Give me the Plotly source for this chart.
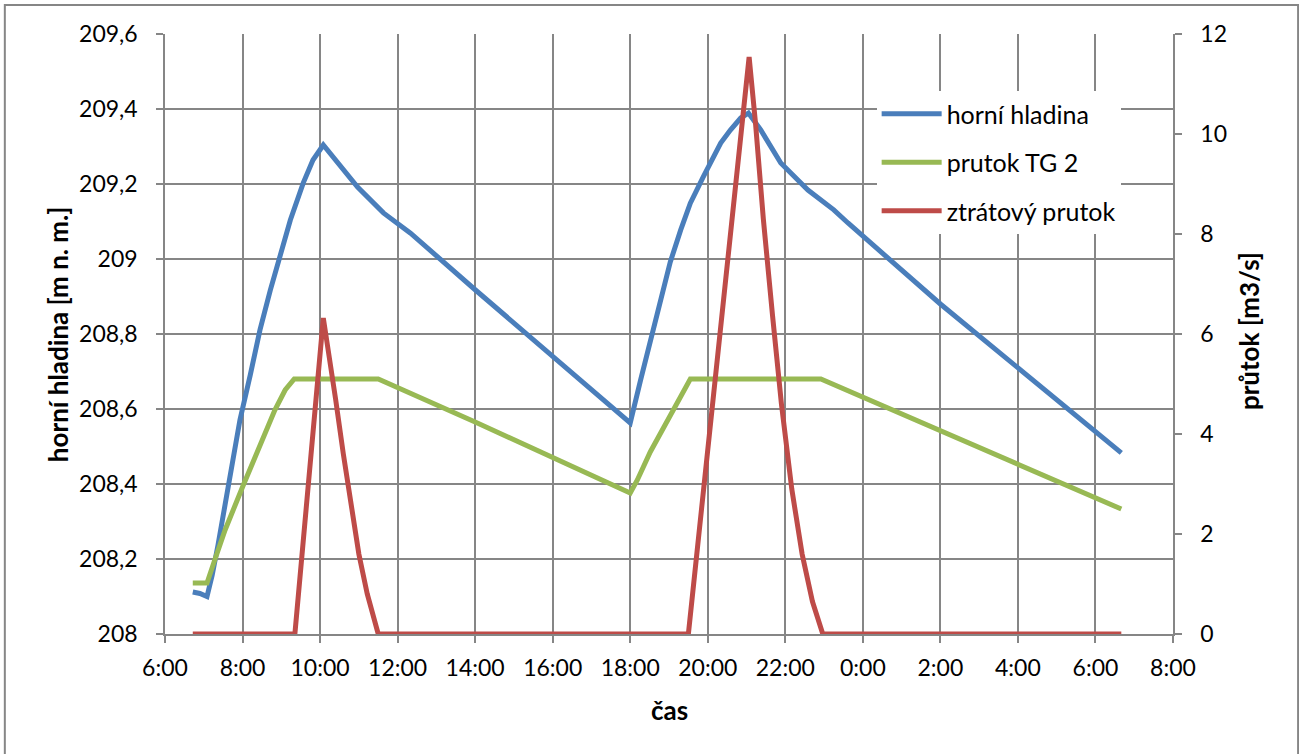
import plotly.graph_objects as go

D1 = "2024-01-01 "
D2 = "2024-01-02 "

# horní hladina [m n. m.] (left axis)
hl_time = [D1 + t for t in ["06:43", "06:54", "07:05", "07:13", "07:22", "07:33", "07:44", "07:56",
                            "08:12", "08:27", "08:43", "08:58", "09:14", "09:34", "09:49", "10:05",
                            "10:27", "10:58", "11:38", "12:20", "14:00", "16:00",
                            "18:00", "18:16", "18:31", "18:47", "19:02", "19:18", "19:33", "19:53",
                            "20:09", "20:20", "20:35", "20:51", "21:03",
                            "21:22", "21:53", "22:35", "23:15", "23:37"]] + [D2 + t for t in ["02:00", "06:40"]]
hl_val = [208.112, 208.108, 208.100, 208.157, 208.237, 208.344, 208.451, 208.571,
          208.691, 208.811, 208.917, 209.011, 209.104, 209.203, 209.264, 209.304,
          209.256, 209.192, 209.123, 209.069, 208.918, 208.742,
          208.563, 208.677, 208.784, 208.891, 208.992, 209.077, 209.149, 209.219,
          209.272, 209.309, 209.344, 209.376, 209.389,
          209.344, 209.256, 209.184, 209.131, 209.096, 208.880, 208.483]

# průtok TG 2 [m3/s] (right axis)
tg_time = [D1 + t for t in ["06:43", "07:05", "07:17", "07:33", "08:00", "08:27", "08:50", "09:06",
                            "09:20", "11:30", "14:00", "18:00", "18:11", "18:31", "18:58", "19:18",
                            "19:33", "22:55"]] + [D2 + "06:40"]
tg_val = [1.02, 1.02, 1.48, 2.08, 2.94, 3.78, 4.48, 4.88,
          5.10, 5.10, 4.24, 2.82, 3.08, 3.64, 4.28, 4.78,
          5.10, 5.10, 2.50]

# ztrátový průtok [m3/s] (right axis)
zt_time = [D1 + t for t in ["06:43", "09:21", "10:05", "10:14", "10:24", "10:36", "10:48", "11:00",
                            "11:13", "11:30", "19:30", "21:04", "21:14", "21:26", "21:40", "21:54",
                            "22:10", "22:26", "22:42", "22:58"]] + [D2 + "06:40"]
zt_val = [0, 0, 6.32, 5.60, 4.70, 3.60, 2.55, 1.60,
          0.80, 0, 0, 11.54, 10.20, 8.30, 6.40, 4.60,
          2.90, 1.60, 0.65, 0, 0]

left_ticks = [208, 208.2, 208.4, 208.6, 208.8, 209, 209.2, 209.4, 209.6]
left_text = ["208", "208,2", "208,4", "208,6", "208,8", "209", "209,2", "209,4", "209,6"]
right_ticks = [0, 2, 4, 6, 8, 10, 12]

GRID = "#868686"
FONT = "Lato"
LW = 5

fig = go.Figure()
fig.add_trace(go.Scatter(x=hl_time, y=hl_val, name="horní hladina", mode="lines",
                         line=dict(color="#4A7EBB", width=LW), yaxis="y", legendgroup="a"))
fig.add_trace(go.Scatter(x=tg_time, y=tg_val, name="prutok TG 2", mode="lines",
                         line=dict(color="#98B954", width=LW), yaxis="y2", legendgroup="b"))
fig.add_trace(go.Scatter(x=zt_time, y=zt_val, name="ztrátový prutok", mode="lines",
                         line=dict(color="#BE4B48", width=LW), yaxis="y2", legendgroup="c"))

axis_common = dict(showline=True, linecolor=GRID, linewidth=1.5, ticks="outside",
                   ticklen=7, tickcolor=GRID, tickwidth=1.5, zeroline=False,
                   tickfont=dict(size=23))

fig.update_layout(
    width=1299, height=754,
    margin=dict(l=165, r=126, t=34, b=120),
    paper_bgcolor="white", plot_bgcolor="white",
    font=dict(family=FONT, size=23, color="black"),
    showlegend=True,
    legend=dict(x=0.706, y=0.905, xanchor="left", yanchor="top", bgcolor="white",
                font=dict(size=25), traceorder="grouped", tracegroupgap=13,
                itemwidth=60),
    xaxis=dict(type="date", range=[D1 + "06:00", D2 + "08:00"], dtick=2 * 3600 * 1000,
               tick0=D1 + "06:00", tickformat="%-H:%M", showgrid=True, gridcolor=GRID,
               gridwidth=1.5, ticklabelstandoff=6, **axis_common),
    yaxis=dict(range=[208, 209.6], tickvals=left_ticks, ticktext=left_text, showgrid=True,
               gridcolor=GRID, gridwidth=1.5, ticklabelstandoff=14, **axis_common),
    yaxis2=dict(range=[0, 12], tickvals=right_ticks, overlaying="y", side="right",
                showgrid=False, ticklabelstandoff=14, **axis_common),
    annotations=[
        dict(text="<b>horní hladina [m n. m.]</b>", x=-0.106, y=0.5, xref="paper", yref="paper",
             textangle=-90, showarrow=False, font=dict(size=26), xanchor="center", yanchor="middle"),
        dict(text="<b>průtok [m3/s]</b>", x=1.0755, y=0.505, xref="paper", yref="paper",
             textangle=-90, showarrow=False, font=dict(size=26), xanchor="center", yanchor="middle"),
        dict(text="<b>čas</b>", x=0.5, y=-0.127, xref="paper", yref="paper",
             showarrow=False, font=dict(size=26), xanchor="center", yanchor="middle"),
    ],
    shapes=[dict(type="rect", xref="paper", yref="paper", x0=-0.1589, x1=1.1241,
                 y0=-0.215, y1=1.0483, line=dict(color=GRID, width=2), layer="below")],
)

fig.write_html("out.html", config={"displayModeBar": False},
               post_script="document.body.style.margin='0';")
